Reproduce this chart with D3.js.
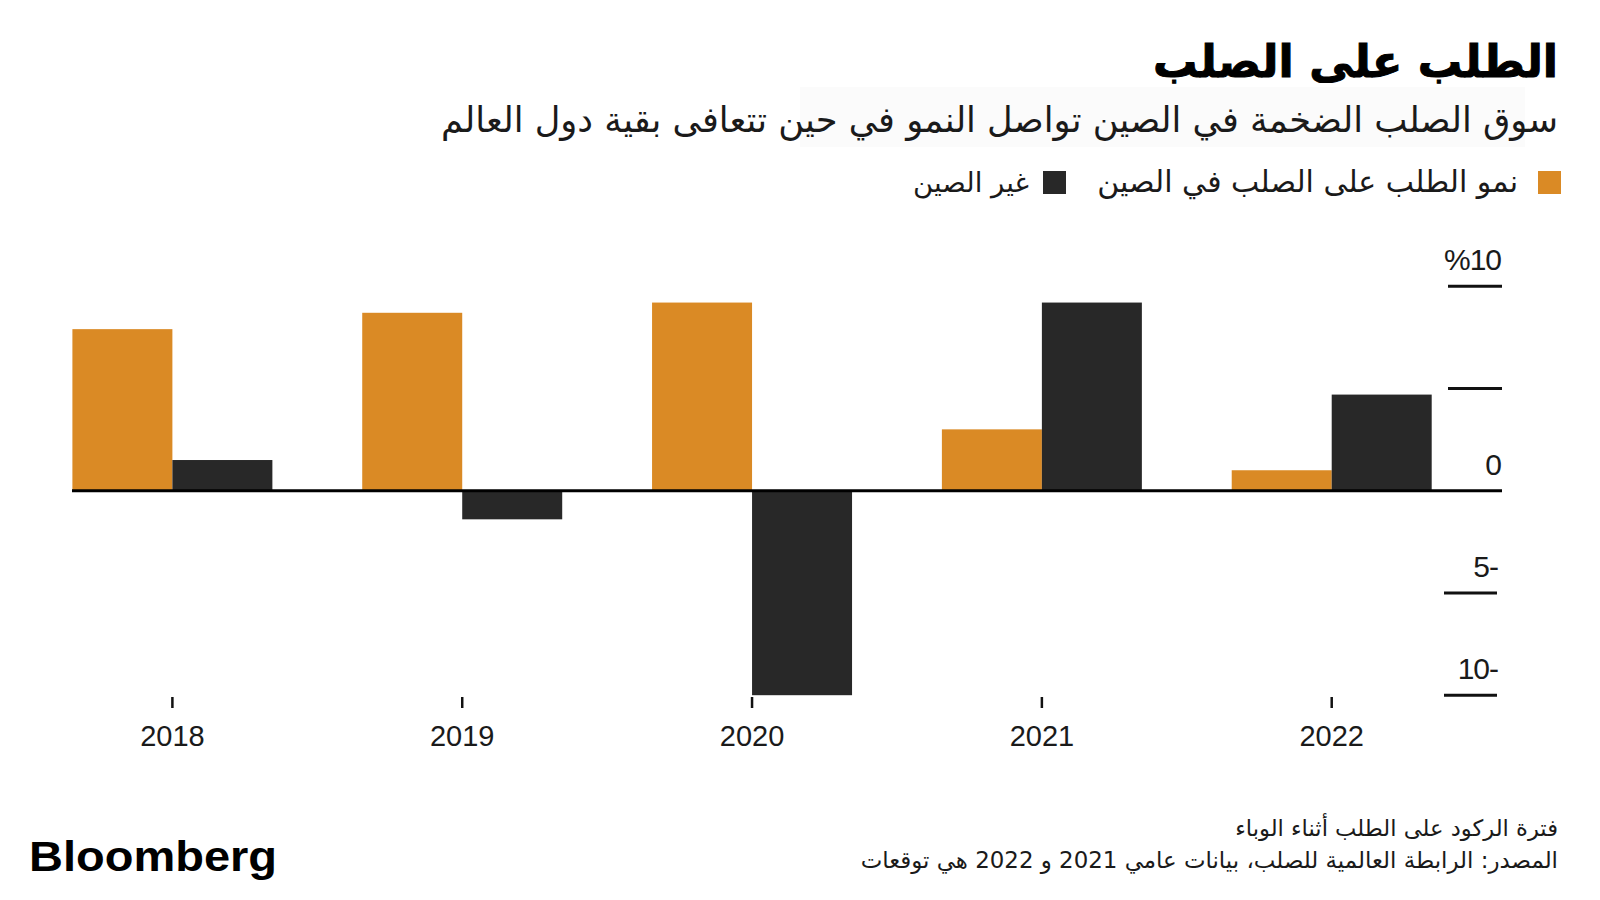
<!DOCTYPE html>
<html><head><meta charset="utf-8">
<script src="https://cdn.jsdelivr.net/npm/d3@7"></script>
<style>
html,body{margin:0;padding:0;background:#fff;}
svg{display:block;}
</style></head>
<body>
<svg id="chart" width="1600" height="900"></svg>
<script>
// ---- data ----
const years = ["2018", "2019", "2020", "2021", "2022"];
const seriesNames = ["نمو الطلب على الصلب في الصين", "غير الصين"];
const chinaGrowth = [7.9, 8.7, 9.2, 3.0, 1.0];
const restOfWorld = [1.5, -1.4, -10.0, 9.2, 4.7];
const yTickValues = [10, 5, 0, -5, -10];
const yTickLabels = ["%10", "", "0", "5-", "10-"];
const titleText = "الطلب على الصلب";
const subtitleText = "سوق الصلب الضخمة في الصين تواصل النمو في حين تتعافى بقية دول العالم";
const note1 = "فترة الركود على الطلب أثناء الوباء";
const note2 = "المصدر: الرابطة العالمية للصلب، بيانات عامي 2021 و 2022 هي توقعات";
const colors = ["#DA8A25", "#282828"];

const arFont = "'DejaVu Sans', 'Noto Sans', sans-serif";
const latFont = "'Liberation Sans', Arial, sans-serif";

const svg = d3.select("#chart");

// faint band behind subtitle (as in reference)
svg.append("rect").attr("x", 800).attr("y", 87).attr("width", 725).attr("height", 60).attr("fill", "#fbfbfb");

function fit(sel, target) {
  const w = sel.node().getComputedTextLength();
  const fs = parseFloat(sel.attr("font-size"));
  sel.attr("font-size", fs * target / w);
}

// title
const t = svg.append("text").attr("x", 1558).attr("y", 77).attr("text-anchor", "end")
  .attr("font-family", arFont).attr("font-weight", "bold").attr("font-size", 46)
  .attr("fill", "#000").attr("stroke", "#000").attr("stroke-width", 1).text(titleText);
fit(t, 405);

const st = svg.append("text").attr("x", 1558).attr("y", 132).attr("text-anchor", "end")
  .attr("font-family", arFont).attr("font-size", 30).attr("fill", "#1a1a1a").text(subtitleText);
fit(st, 1117);

// legend
const legendItems = [
  {sq: 1538, tx: 1518, w: 421},
  {sq: 1043, tx: 1029, w: 116}
];
legendItems.forEach((d, i) => {
  svg.append("rect").attr("x", d.sq).attr("y", 171).attr("width", 23).attr("height", 23).attr("fill", colors[i]);
  const lt = svg.append("text").attr("x", d.tx).attr("y", 192).attr("text-anchor", "end")
    .attr("font-family", arFont).attr("font-size", 26).attr("fill", "#1a1a1a").text(seriesNames[i]);
  fit(lt, d.w);
});

// scales
const x0 = d3.scaleBand().domain(years).range([72.4, 1431.7]).paddingInner(0.31).paddingOuter(0);
const x1 = d3.scaleBand().domain([0, 1]).range([0, x0.bandwidth()]).padding(0);
const y = d3.scaleLinear().domain([-10, 10]).range([695.2, 286.2]);

// bars
const groups = svg.append("g").selectAll("g").data(years).join("g")
  .attr("transform", d => `translate(${x0(d)},0)`);
groups.selectAll("rect").data((d, i) => [chinaGrowth[i], restOfWorld[i]]).join("rect")
  .attr("x", (d, j) => x1(j))
  .attr("width", x1.bandwidth())
  .attr("y", d => y(Math.max(0, d)))
  .attr("height", d => Math.abs(y(d) - y(0)))
  .attr("fill", (d, j) => colors[j]);

// y axis (right side)
yTickValues.forEach((v, i) => {
  if (v === 0) return;
  const x1l = v > 0 ? 1448 : 1444, x2l = v > 0 ? 1502 : 1497;
  svg.append("line").attr("x1", x1l).attr("x2", x2l).attr("y1", y(v)).attr("y2", y(v))
    .attr("stroke", "#111").attr("stroke-width", 3);
});
yTickValues.forEach((v, i) => {
  if (!yTickLabels[i]) return;
  svg.append("text").attr("x", v >= 0 ? 1501 : 1498).attr("y", y(v) - 16).attr("text-anchor", "end")
    .attr("font-family", latFont).attr("font-size", 30).attr("letter-spacing", -1)
    .attr("fill", "#1a1a1a").text(yTickLabels[i]);
});

// zero line
svg.append("line").attr("x1", 72).attr("x2", 1502).attr("y1", y(0)).attr("y2", y(0))
  .attr("stroke", "#000").attr("stroke-width", 3);

// x axis
const xa = svg.append("g").attr("transform", "translate(0,697)")
  .call(d3.axisBottom(x0).tickSize(11).tickPadding(20).tickSizeOuter(0));
xa.select(".domain").remove();
xa.selectAll(".tick line").attr("stroke", "#111").attr("stroke-width", 2.5);
xa.selectAll(".tick text").attr("font-family", latFont).attr("font-size", 29).attr("fill", "#1a1a1a")
  .attr("dy", null).attr("y", 49);

// footnotes
const n1 = svg.append("text").attr("x", 1558).attr("y", 836).attr("text-anchor", "end")
  .attr("font-family", arFont).attr("font-size", 20).attr("fill", "#1a1a1a").text(note1);
fit(n1, 323);
const n2 = svg.append("text").attr("x", 1558).attr("y", 868).attr("text-anchor", "end")
  .attr("font-family", arFont).attr("font-size", 20).attr("fill", "#1a1a1a").text(note2);
fit(n2, 698);

// logo
svg.append("text").attr("x", 29).attr("y", 871)
  .attr("font-family", latFont).attr("font-weight", "bold").attr("font-size", 42)
  .attr("textLength", 248).attr("lengthAdjust", "spacingAndGlyphs")
  .attr("fill", "#000").text("Bloomberg");
</script>
</body></html>
